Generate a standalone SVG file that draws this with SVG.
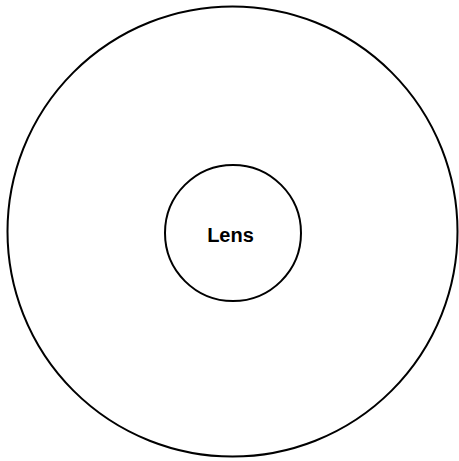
<svg xmlns="http://www.w3.org/2000/svg" width="459" height="461" viewBox="0 0 459 461">
<style>
.c{fill:none;stroke:#000;stroke-width:2}
.t{font-family:"Liberation Sans",Arial,sans-serif;font-weight:bold;font-size:20px;fill:#000;text-anchor:middle}
</style>
<rect width="459" height="461" fill="#fff"/>
<g id="outer"><circle class="c" cx="232.5" cy="231.5" r="225"/></g>
<g id="lens"><circle class="c" cx="233" cy="233" r="68"/><text class="t" x="230.5" y="242">Lens</text></g>
<g id="connectors"/>
</svg>
